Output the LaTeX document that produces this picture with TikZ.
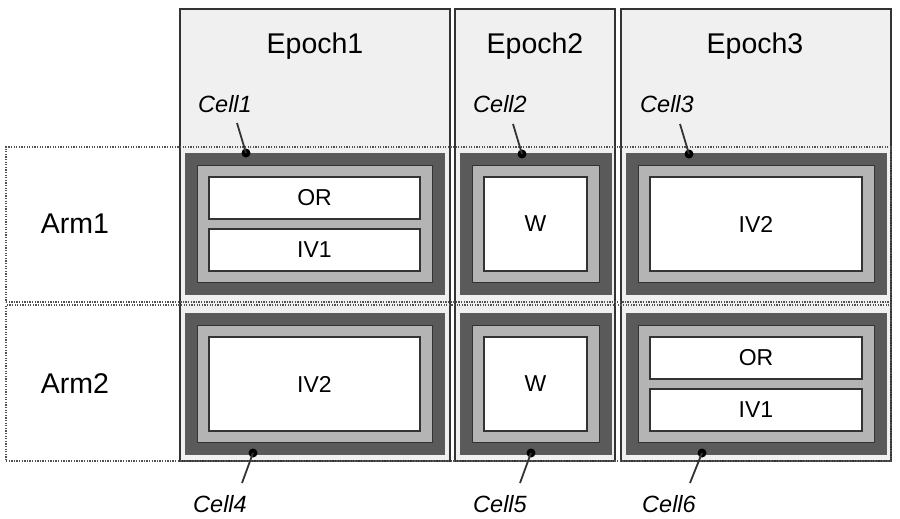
\documentclass[tikz,border=0pt]{standalone}
\usepackage{fontspec}
\setmainfont{Liberation Sans}
\definecolor{hdrfill}{HTML}{F0F0F0}
\definecolor{darkbox}{HTML}{5A5A5A}
\definecolor{lightbox}{HTML}{B4B4B4}
\definecolor{edge}{HTML}{333333}
\tikzset{
  colbox/.style={draw=edge,line width=1.8pt,fill=hdrfill},
  rowbox/.style={draw=edge!85,line width=1.4pt,dash pattern=on 1.3pt off 1.3pt},
  outerbox/.style={draw=edge!80,line width=0.9pt,fill=darkbox},
  midbox/.style={draw=edge,line width=0.9pt,fill=lightbox},
  whitebox/.style={draw=edge,line width=1.6pt,fill=white,font=\fontsize{23}{26}\selectfont},
  bigtxt/.style={font=\fontsize{28.5}{32}\selectfont,anchor=base},
  celltxt/.style={font=\fontsize{23.5}{26}\selectfont\itshape,anchor=base},
  dotn/.style={circle,fill=black,inner sep=0pt,minimum size=9pt},
  leader/.style={draw=edge,line width=1.8pt},
}
\newcommand\rbox[7]{\node[#1,anchor=north west,inner sep=0pt,outer sep=0pt,minimum width={(#4-#2)*1pt},minimum height={(#5-#3)*1pt}] (#6) at (#2,#3) {#7};}
\begin{document}
\begin{tikzpicture}[x=1pt,y=-1pt]
\useasboundingbox (0,0) rectangle (900,519);
% columns
\rbox{colbox}{180}{9}{450}{461}{col1}{}
\rbox{colbox}{455}{9}{615}{461}{col2}{}
\rbox{colbox}{621}{9}{891}{461}{col3}{}
\node[bigtxt] (e1) at (315,54) {Epoch1};
\node[bigtxt] (e2) at (535,54) {Epoch2};
\node[bigtxt] (e3) at (755,54) {Epoch3};
% rows
\rbox{rowbox}{6}{147}{891}{302}{row1}{}
\rbox{rowbox}{6}{305}{891}{461}{row2}{}
\node[bigtxt] (a1) at (75,233) {Arm1};
\node[bigtxt] (a2) at (75,393) {Arm2};
% Cell1
\rbox{outerbox}{185}{153}{444}{294}{c1o}{}
\rbox{midbox}{197}{165}{432}{282}{c1m}{}
\rbox{whitebox}{209}{177}{420}{219}{c1a}{OR}
\rbox{whitebox}{209}{229}{420}{271}{c1b}{IV1}
% Cell2
\rbox{outerbox}{460}{153}{611}{294}{c2o}{}
\rbox{midbox}{472}{165}{599}{282}{c2m}{}
\rbox{whitebox}{484}{177}{587}{271}{c2a}{W}
% Cell3
\rbox{outerbox}{626}{153}{886}{294}{c3o}{}
\rbox{midbox}{638}{165}{874}{282}{c3m}{}
\rbox{whitebox}{650}{177}{862}{271}{c3a}{IV2}
% Cell4
\rbox{outerbox}{185}{313}{444}{454}{c4o}{}
\rbox{midbox}{197}{325}{432}{442}{c4m}{}
\rbox{whitebox}{209}{337}{420}{431}{c4a}{IV2}
% Cell5
\rbox{outerbox}{460}{313}{611}{454}{c5o}{}
\rbox{midbox}{472}{325}{599}{442}{c5m}{}
\rbox{whitebox}{484}{337}{587}{431}{c5a}{W}
% Cell6
\rbox{outerbox}{626}{313}{886}{454}{c6o}{}
\rbox{midbox}{638}{325}{874}{442}{c6m}{}
\rbox{whitebox}{650}{337}{862}{379}{c6a}{OR}
\rbox{whitebox}{650}{389}{862}{431}{c6b}{IV1}
% labels
\node[celltxt] (l1) at (225,112) {Cell1};
\node[celltxt] (l2) at (500,112) {Cell2};
\node[celltxt] (l3) at (667,112) {Cell3};
\node[celltxt] (l4) at (220,512) {Cell4};
\node[celltxt] (l5) at (500,512) {Cell5};
\node[celltxt] (l6) at (669,512) {Cell6};
\coordinate (t1) at (237,123);
\coordinate (t2) at (513,124);
\coordinate (t3) at (680,124);
\coordinate (t4) at (242,483);
\coordinate (t5) at (520,483);
\coordinate (t6) at (690,483);
\node[dotn] (d1) at (246,153) {};
\node[dotn] (d2) at (522,154) {};
\node[dotn] (d3) at (689,154) {};
\node[dotn] (d4) at (253,453) {};
\node[dotn] (d5) at (531,453) {};
\node[dotn] (d6) at (702,453) {};
\draw[leader] (t1) -- (d1.center);
\draw[leader] (t2) -- (d2.center);
\draw[leader] (t3) -- (d3.center);
\draw[leader] (t4) -- (d4.center);
\draw[leader] (t5) -- (d5.center);
\draw[leader] (t6) -- (d6.center);
\end{tikzpicture}
\end{document}
